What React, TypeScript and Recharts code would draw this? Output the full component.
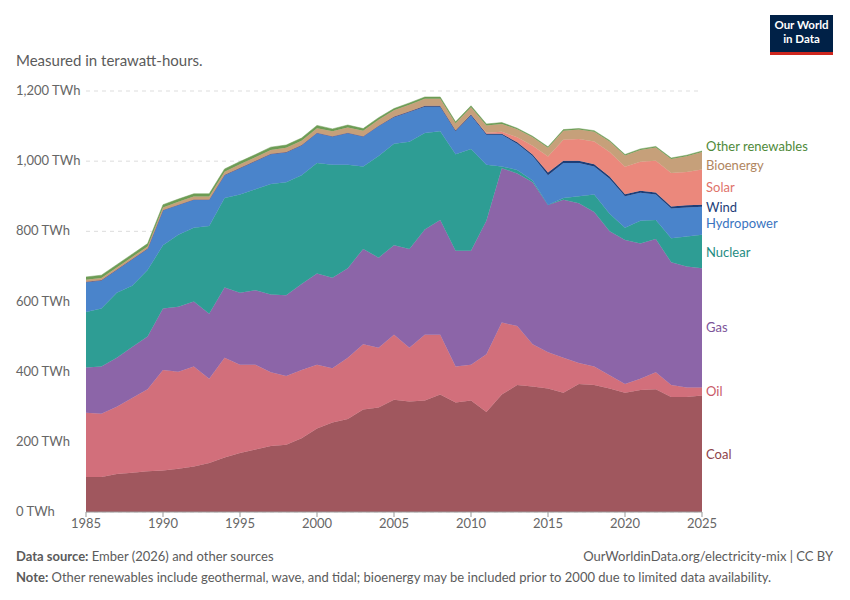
import React from "react";
import { AreaChart, Area, XAxis, YAxis, CartesianGrid } from "recharts";

const years = Array.from({ length: 41 }, (_, i) => 1985 + i);
// Stack tops (TWh, cumulative)
const coalTop = [100,100,108,112,116,118,123,130,140,155,168,178,188,192,210,238,255,265,292,298,320,315,318,335,312,318,285,335,362,358,352,340,365,362,352,340,348,350,328,328,332];
const oilTop = [283,280,300,325,350,405,400,415,380,440,420,420,398,388,405,420,410,440,478,468,505,468,505,505,415,420,450,540,530,478,455,440,425,415,390,365,380,398,362,355,355];
const gasTop = [412,415,440,470,500,580,585,600,565,640,625,632,620,618,650,680,668,695,750,725,760,750,805,832,745,745,830,980,965,940,875,890,880,855,800,775,765,778,712,700,695];
const nuclearTop = [570,580,625,645,690,760,790,810,815,895,905,920,935,940,960,995,990,990,985,1015,1050,1055,1080,1085,1020,1035,990,985,975,945,875,895,900,905,850,810,830,832,780,785,790];
const hydroTop = [655,660,690,720,750,860,875,890,890,960,980,1000,1020,1025,1045,1080,1070,1080,1070,1100,1125,1140,1155,1155,1085,1130,1075,1075,1050,1015,960,995,995,985,950,900,910,905,865,868,870];
const wind = [1,1,1,1,1,1,1,1,1,1,1,1,1,1,1,1,1,1,1,1,2,2,3,3,3,3,3,3,4,4,8,6,6,6,6,6,6,6,6,6,6];
const solar = [0,0,0,0,0,0,0,0,0,0,0,0,0,0,0,0,0,0,0,0,0,0,0,0,0,1,3,6,14,25,45,60,62,65,70,78,82,90,95,95,100];
const bio = [6,6,6,6,6,7,8,8,8,9,10,10,11,12,12,13,14,15,16,17,18,19,20,20,20,20,21,22,23,24,25,26,27,28,30,32,34,38,40,45,50];
const other = [8,8,8,8,8,8,8,8,8,8,8,8,8,8,8,8,7,7,6,6,5,5,5,5,4,4,4,4,3,3,3,3,3,3,3,3,3,3,3,3,3];

const data = years.map((y, i) => ({
  year: y,
  coal: coalTop[i],
  oil: oilTop[i] - coalTop[i],
  gas: gasTop[i] - oilTop[i],
  nuclear: nuclearTop[i] - gasTop[i],
  hydro: hydroTop[i] - nuclearTop[i],
  wind: wind[i],
  solar: solar[i],
  bio: bio[i],
  other: other[i],
}));

const series = [
  { key: "coal", color: "#a0575e" },
  { key: "oil", color: "#d26f7b" },
  { key: "gas", color: "#8c65a8" },
  { key: "nuclear", color: "#2e9d94" },
  { key: "hydro", color: "#4a84cb" },
  { key: "wind", color: "#1d3e78" },
  { key: "solar", color: "#eb887c" },
  { key: "bio", color: "#c6a07a" },
  { key: "other", color: "#6d9c55" },
];

const labels = [
  { t: "Other renewables", y: 147, c: "#4f8a3a" },
  { t: "Bioenergy", y: 166, c: "#b08560" },
  { t: "Solar", y: 188, c: "#e0736a" },
  { t: "Wind", y: 208, c: "#1d3e78" },
  { t: "Hydropower", y: 224, c: "#3a74c0" },
  { t: "Nuclear", y: 253, c: "#1f8c83" },
  { t: "Gas", y: 328, c: "#7d559a" },
  { t: "Oil", y: 392, c: "#c95a68" },
  { t: "Coal", y: 455, c: "#8e444b" },
];

const YTick = (p: any) => (
  <text x={16} y={p.y} dy={4} fill="#666" fontSize={13} textAnchor="start">
    {p.payload.value.toLocaleString("en-US")} TWh
  </text>
);

export default function App() {
  const font = "Lato, sans-serif";
  return (
    <div style={{ position: "absolute", left: 0, top: 0, width: 850, height: 600, background: "#fff", fontFamily: font }}>
      <div style={{ position: "absolute", left: 16, top: 51, fontSize: 15, color: "#5b5b5b" }}>Measured in terawatt-hours.</div>
      <div style={{ position: "absolute", left: 770, top: 15, width: 63, height: 34, background: "#002147", borderBottom: "3px solid #ce261e", color: "#fff", fontSize: 11.5, fontWeight: 700, textAlign: "center", lineHeight: "14px", paddingTop: 3, boxSizing: "content-box" }}>
        Our World<br />in Data
      </div>
      <AreaChart width={850} height={600} data={data} margin={{ top: 91, right: 148, bottom: 58, left: 16 }}>
        <CartesianGrid vertical={false} strokeDasharray="4 4" stroke="#ddd" />
        <XAxis dataKey="year" type="number" domain={[1985, 2025]} ticks={[1985,1990,1995,2000,2005,2010,2015,2020,2025]} height={30}
          tick={{ fill: "#666", fontSize: 13 }} stroke="#999" tickSize={5} interval={0} />
        <YAxis width={70} domain={[0, 1200]} ticks={[0,200,400,600,800,1000,1200]} axisLine={false} tickLine={false} tick={<YTick />} />
        {series.map((s) => (
          <Area key={s.key} dataKey={s.key} stackId="a" type="linear" fill={s.color} stroke={s.color} strokeWidth={0.5} fillOpacity={1} isAnimationActive={false} />
        ))}
      </AreaChart>
      {labels.map((l) => (
        <div key={l.t} style={{ position: "absolute", left: 706, top: l.y - 9, fontSize: 13, color: l.c }}>{l.t}</div>
      ))}
      <div style={{ position: "absolute", left: 16, top: 548, fontSize: 13, color: "#5b5b5b" }}><b>Data source:</b> Ember (2026) and other sources</div>
      <div style={{ position: "absolute", right: 17, top: 548, fontSize: 13, color: "#5b5b5b" }}>OurWorldinData.org/electricity-mix | CC BY</div>
      <div style={{ position: "absolute", left: 16, top: 569, fontSize: 13, color: "#5b5b5b" }}><b>Note:</b> Other renewables include geothermal, wave, and tidal; bioenergy may be included prior to 2000 due to limited data availability.</div>
    </div>
  );
}
